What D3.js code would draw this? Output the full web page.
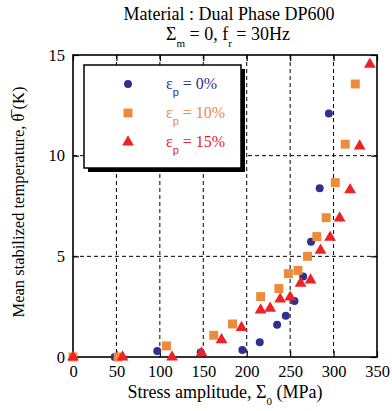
<!DOCTYPE html>
<html>
<head>
<meta charset="utf-8">
<script src="https://cdn.jsdelivr.net/npm/d3@7"></script>
<style>
  body { margin: 0; background: #fff; }
  text { font-family: "Liberation Serif", "DejaVu Serif", serif; }
</style>
</head>
<body>
<div id="chart"></div>
<script>
// data (stress MPa, temperature K)
const xTicks = [0, 50, 100, 150, 200, 250, 300, 350];
const yTicks = [0, 5, 10, 15];

const eps0X = [0, 48, 97, 147, 195, 215, 235, 245, 255, 265, 274, 284, 294.6];
const eps0Y = [0, 0, 0.3, 0.23, 0.35, 0.73, 1.6, 2.05, 2.78, 4.0, 5.73, 8.38, 12.1];

const eps10X = [0, 52, 107.6, 162, 183.6, 216, 237, 248, 259, 270, 280.7, 291.5, 302, 313.4, 325];
const eps10Y = [0, 0, 0.55, 1.08, 1.64, 3.0, 3.4, 4.14, 4.3, 5.0, 5.98, 6.92, 8.66, 10.57, 13.56];

const eps15X = [0, 57, 114, 148, 171, 194, 216, 227, 238.5, 250, 262, 273.5, 285, 296, 307, 319, 330, 341.8];
const eps15Y = [0, 0, 0, 0.2, 0.85, 1.46, 2.33, 2.42, 2.87, 2.97, 3.66, 3.82, 5.3, 5.94, 6.9, 8.3, 10.48, 14.54];

const seriesNames = ['0%', '10%', '15%'];
const seriesColors = ['#2e3192', '#ee8a3a', '#ec2227'];
const seriesShapes = [d3.symbolCircle, d3.symbolSquare, d3.symbolTriangle];
const seriesSizes = [50, 80, 60];

const series = [
  eps0X.map((x, i) => ({ x, y: eps0Y[i] })),
  eps10X.map((x, i) => ({ x, y: eps10Y[i] })),
  eps15X.map((x, i) => ({ x, y: eps15Y[i] }))
];

const dimensions = {
  width: 392,
  height: 411,
  margin: { top: 55, bottom: 54, left: 73, right: 15 }
};
dimensions.ctrWidth = dimensions.width - dimensions.margin.left - dimensions.margin.right;
dimensions.ctrHeight = dimensions.height - dimensions.margin.top - dimensions.margin.bottom;

const svg = d3.select('#chart')
  .append('svg')
  .attr('width', dimensions.width)
  .attr('height', dimensions.height);

const ctr = svg.append('g')
  .attr('transform', `translate(${dimensions.margin.left}, ${dimensions.margin.top})`);

// Scales
const xScale = d3.scaleLinear().domain([0, 350]).range([0, 304]);
const yScale = d3.scaleLinear().domain([0, 15]).range([302, 0]);
const W = xScale(350), H = yScale(0);

// Grid
ctr.append('g').selectAll('line')
  .data(xTicks.slice(1, -1))
  .join('line')
  .attr('x1', d => xScale(d)).attr('x2', d => xScale(d))
  .attr('y1', 0).attr('y2', H)
  .attr('stroke', '#000').attr('stroke-width', 1).attr('stroke-dasharray', '4,3');

ctr.append('g').selectAll('line')
  .data(yTicks.slice(1, -1))
  .join('line')
  .attr('y1', d => yScale(d)).attr('y2', d => yScale(d))
  .attr('x1', 0).attr('x2', W)
  .attr('stroke', '#000').attr('stroke-width', 1).attr('stroke-dasharray', '4,3');

// Axes
const xAxis = d3.axisBottom(xScale).tickValues(xTicks).tickSize(-6).tickPadding(8);
const xTop = d3.axisTop(xScale).tickValues(xTicks).tickSize(-6).tickFormat('');
const yAxis = d3.axisLeft(yScale).tickValues(yTicks).tickSize(-6).tickPadding(8);
const yRight = d3.axisRight(yScale).tickValues(yTicks).tickSize(-6).tickFormat('');

const styleAxis = g => {
  g.select('.domain').remove();
  g.selectAll('line').attr('stroke', '#000').attr('stroke-width', 1.2);
  g.selectAll('text').attr('fill', '#000').style('font-size', '16.5px')
    .style('font-family', '"Liberation Serif", serif');
};

ctr.append('g').attr('transform', `translate(0, ${H})`).call(xAxis).call(styleAxis);
ctr.append('g').call(xTop).call(styleAxis);
ctr.append('g').call(yAxis).call(styleAxis);
ctr.append('g').attr('transform', `translate(${W}, 0)`).call(yRight).call(styleAxis);

ctr.append('rect')
  .attr('width', W).attr('height', H)
  .attr('fill', 'none').attr('stroke', '#000').attr('stroke-width', 1.6);

// Points
series.forEach((pts, i) => {
  ctr.append('g').selectAll('path')
    .data(pts)
    .join('path')
    .attr('transform', d => `translate(${xScale(d.x)}, ${yScale(d.y)})`)
    .attr('d', d3.symbol().type(seriesShapes[i]).size(seriesSizes[i]))
    .attr('fill', seriesColors[i]);
});

// Legend
const legend = ctr.append('g').attr('transform', 'translate(11, 10)');
legend.append('rect')
  .attr('x', 4).attr('y', 4).attr('width', 157).attr('height', 103)
  .attr('fill', '#000');
legend.append('rect')
  .attr('width', 157).attr('height', 103)
  .attr('fill', '#fff').attr('stroke', '#000').attr('stroke-width', 1.5);

seriesNames.forEach((name, i) => {
  const row = legend.append('g').attr('transform', `translate(0, ${19 + i * 29})`);
  row.append('path')
    .attr('transform', 'translate(44, 0)')
    .attr('d', d3.symbol().type(seriesShapes[i]).size(seriesSizes[i]))
    .attr('fill', seriesColors[i]);
  const t = row.append('text')
    .attr('x', 82).attr('y', 5)
    .attr('fill', seriesColors[i])
    .style('font-size', '16px');
  t.append('tspan').text('ε');
  t.append('tspan').attr('dy', 7).style('font-size', '11px').style('font-family', '"Liberation Sans", sans-serif').text('p');
  t.append('tspan').attr('dy', -7).text(' = ' + name);
});

// Titles
const title = svg.append('g').attr('text-anchor', 'middle');
title.append('text')
  .attr('x', 229).attr('y', 20)
  .style('font-size', '18px')
  .text('Material : Dual Phase DP600');
const t2 = title.append('text')
  .attr('x', 228).attr('y', 40)
  .style('font-size', '18px');
t2.append('tspan').text('Σ');
t2.append('tspan').attr('dy', 7).style('font-size', '11px').text('m');
t2.append('tspan').attr('dy', -7).text(' = 0, f');
t2.append('tspan').attr('dy', 7).style('font-size', '11px').text('r');
t2.append('tspan').attr('dy', -7).text(' = 30Hz');

// X label
const xl = svg.append('text')
  .attr('x', 225).attr('y', 398)
  .attr('text-anchor', 'middle')
  .style('font-size', '18px');
xl.append('tspan').text('Stress amplitude, Σ');
xl.append('tspan').attr('dy', 7).style('font-size', '11px').text('0');
xl.append('tspan').attr('dy', -7).text(' (MPa)');

// Y label
svg.append('text')
  .attr('transform', 'translate(24, 202) rotate(-90)')
  .attr('text-anchor', 'middle')
  .style('font-size', '16.5px')
  .text('Mean stabilized temperature, θ\u0305 (K)');
</script>
</body>
</html>
